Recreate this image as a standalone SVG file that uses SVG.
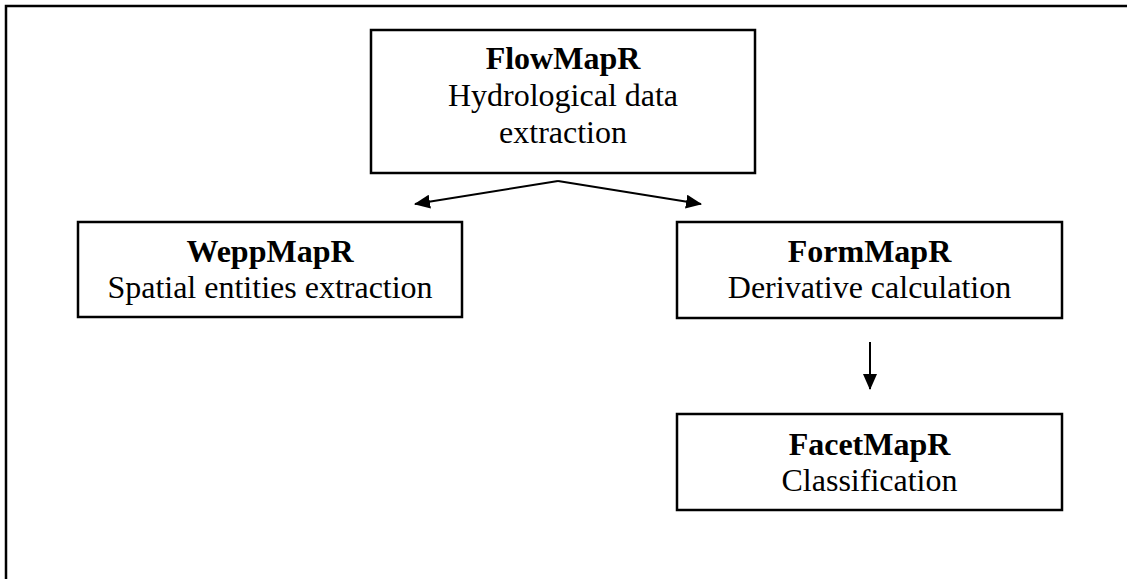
<svg xmlns="http://www.w3.org/2000/svg" width="1127" height="579" viewBox="0 0 1127 579">
  <style>
    .box { fill: #ffffff; stroke: #000000; stroke-width: 2.5; }
    .title { font-family: "Liberation Serif", "Times New Roman", serif; font-size: 32px; font-weight: bold; text-anchor: middle; fill: #000000; }
    .sub { font-family: "Liberation Serif", "Times New Roman", serif; font-size: 32px; text-anchor: middle; fill: #000000; }
    .conn { fill: none; stroke: #000000; stroke-width: 2; marker-end: url(#arrow); }
    .frame { fill: none; stroke: #000000; stroke-width: 2.5; }
  </style>
  <defs>
    <marker id="arrow" viewBox="0 0 16 14" refX="15" refY="7" markerWidth="16" markerHeight="14" markerUnits="userSpaceOnUse" orient="auto">
      <path d="M0,0 L16,7 L0,14 Z" fill="#000000"/>
    </marker>
  </defs>
  <rect x="0" y="0" width="1127" height="579" fill="#ffffff"/>
  <path class="frame" d="M6,579 V6 H1127"/>

  <g id="connectors">
    <polyline class="conn" points="558,181 415,204"/>
    <polyline class="conn" points="558,181 701,204"/>
    <line class="conn" x1="870" y1="342" x2="870" y2="389"/>
  </g>

  <g id="flowmapr">
    <rect class="box" x="371" y="30" width="384" height="143"/>
    <text class="title" x="563" y="69">FlowMapR</text>
    <text class="sub" x="563" y="106">Hydrological data</text>
    <text class="sub" x="563" y="143">extraction</text>
  </g>

  <g id="weppmapr">
    <rect class="box" x="78" y="222" width="384" height="95"/>
    <text class="title" x="270" y="262">WeppMapR</text>
    <text class="sub" x="270" y="298">Spatial entities extraction</text>
  </g>

  <g id="formmapr">
    <rect class="box" x="677" y="222" width="385" height="96"/>
    <text class="title" x="869.5" y="262">FormMapR</text>
    <text class="sub" x="869.5" y="298">Derivative calculation</text>
  </g>

  <g id="facetmapr">
    <rect class="box" x="677" y="414" width="385" height="96"/>
    <text class="title" x="869.5" y="455">FacetMapR</text>
    <text class="sub" x="869.5" y="491">Classification</text>
  </g>
</svg>
